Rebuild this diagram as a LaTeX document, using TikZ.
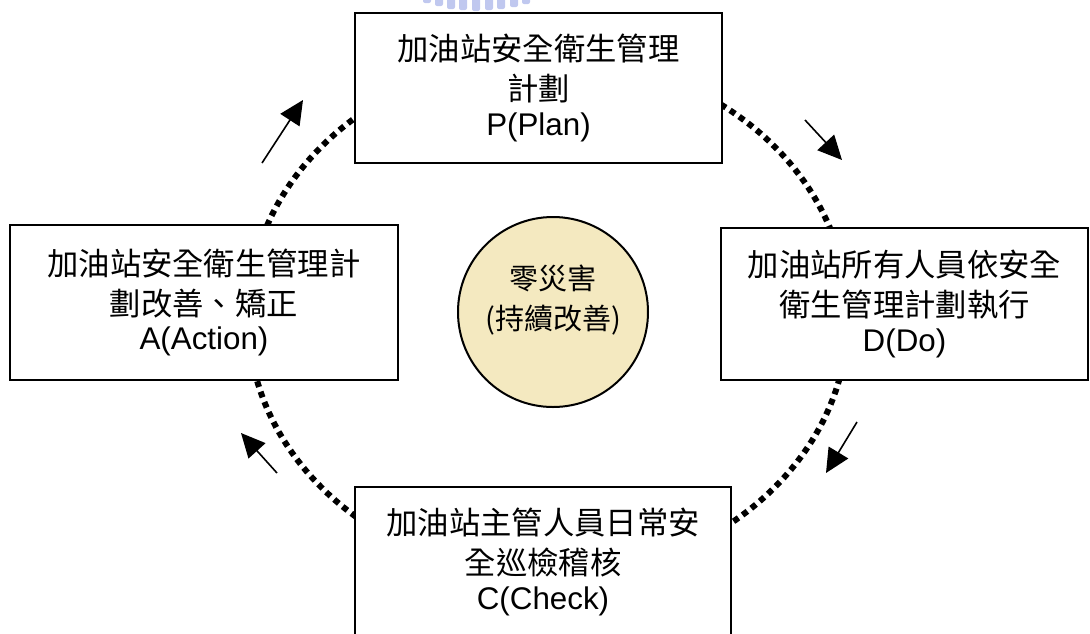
\documentclass[tikz,border=0pt]{standalone}
\usepackage{fontspec}
\setmainfont{Liberation Sans}
\newfontfamily\cjk{Noto Sans CJK TC}
\usetikzlibrary{arrows.meta}
\definecolor{zerofill}{RGB}{244,233,192}
\definecolor{markblue}{RGB}{140,155,225}
\begin{document}
\begin{tikzpicture}[x=0.75pt,y=-0.75pt,
  stagebox/.style={draw=black, line width=1.5pt, fill=white, align=center,
    inner sep=0pt, font=\fontsize{23.5pt}{30pt}\selectfont},
  loopline/.style={line width=4.5pt, dash pattern=on 4.5pt off 3.75pt},
  turnarrow/.style={line width=1.2pt, -{Triangle[length=18pt,width=17pt]}},
]
\useasboundingbox (0,0) rectangle (1090,633);
\clip (0,0) rectangle (1090,633);

% faint emblem fragment along the top edge
\foreach \x/\b in {427/3,439/6,451/9,463/10,476/11,489/10,501/9,514/7,526/4}
  \fill[markblue, opacity=0.55, rounded corners=1.5pt] (\x-4,-4) rectangle (\x+4,\b);

% dotted PDCA loop behind the four stages
\draw[loopline] (548,317) ellipse [x radius=225pt, y radius=195pt];

% the four stages
\node[stagebox, minimum width=275.25pt, minimum height=112.5pt] (plan) at (538.5,88)
  {{\cjk 加油站安全衛生管理}\\{\cjk 計劃}\\[-4pt]P(Plan)};
\node[stagebox, minimum width=275.25pt, minimum height=114pt] (do) at (904.5,304)
  {{\cjk 加油站所有人員依安全}\\{\cjk 衛生管理計劃執行}\\[-4pt]D(Do)};
\node[stagebox, minimum width=282pt, minimum height=112pt] (check) at (543,562)
  {{\cjk 加油站主管人員日常安}\\{\cjk 全巡檢稽核}\\[-4pt]C(Check)};
\node[stagebox, minimum width=291pt, minimum height=116.25pt] (act) at (204,302.5)
  {{\cjk 加油站安全衛生管理計}\\{\cjk 劃改善、矯正}\\[-4pt]A(Action)};

% goal in the middle
\node[circle, draw=black, line width=1.5pt, fill=zerofill, minimum size=142.5pt,
  inner sep=0pt] (zero) at (553,312) {};
\node[align=center, inner sep=0pt, font=\cjk\fontsize{21.75pt}{30pt}\selectfont]
  (zerotext) at (553,300) {零災害\\(持續改善)};

% direction of travel round the loop
\coordinate (pa) at (262,163); \coordinate (pb) at (303,100);
\coordinate (da) at (805,120); \coordinate (db) at (842,160);
\coordinate (ca) at (857,422); \coordinate (cb) at (826,473);
\coordinate (aa) at (277,473); \coordinate (ab) at (241,433);
\draw[turnarrow] (pa) -- (pb);
\draw[turnarrow] (da) -- (db);
\draw[turnarrow] (ca) -- (cb);
\draw[turnarrow] (aa) -- (ab);
\end{tikzpicture}
\end{document}
